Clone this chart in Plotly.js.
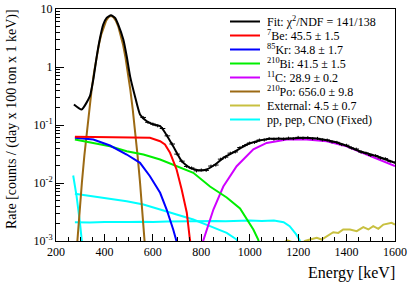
<!DOCTYPE html>
<html><head><meta charset="utf-8">
<script src="https://cdn.plot.ly/plotly-3.0.1.min.js"></script>
<style>html,body{margin:0;padding:0;background:#fff}#c{width:415px;height:286px}</style>
</head><body><div id="c"></div>
<script>
// ---- data ----
const fitE    = [274,306,340,354,368,382,395,409,427,444,457,478,492,506,526,547,575,602,630,650,684,719,753,795,822,857,891,932,988,1029,1084,1139,1221,1304,1386,1455,1524,1600];
const fitRate = [0.2256,0.185,0.314,0.608,1.5,3.2,5.4,7.05,7.8,7.05,5.4,2.98,1.53,0.69,0.314,0.152,0.116,0.102,0.0953,0.0743,0.043,0.0238,0.0183,0.0164,0.0171,0.0208,0.0272,0.0336,0.0461,0.0526,0.0578,0.0578,0.0601,0.0562,0.0461,0.0353,0.029,0.0223];

const dataE    = [560,580,600,620,640,660,680,700,720,740,760,780,800,820,840,860,880,900,920,940,960,980,1000,1020,1040,1060,1080,1100,1120,1140,1160,1180,1200,1220,1240,1260,1280,1300,1320,1340,1360,1380,1400,1420,1440,1460,1480,1500,1520,1540,1560,1580,1600];
const dataRate = [0.135,0.111,0.104,0.097,0.087,0.065,0.047,0.0315,0.0238,0.0193,0.0182,0.0162,0.0168,0.0165,0.0196,0.0204,0.0258,0.0279,0.0327,0.0343,0.0409,0.0442,0.0489,0.0502,0.0551,0.0552,0.0586,0.0571,0.0588,0.0574,0.0594,0.0583,0.0612,0.0593,0.0606,0.0582,0.0589,0.0555,0.0551,0.0512,0.0503,0.0459,0.0448,0.0402,0.0385,0.0341,0.0328,0.0299,0.0297,0.0270,0.0263,0.0236,0.0226];

const be7E = [278,382,506,588,630,650,671,698,719,740,753,758];
const be7R = [0.0626,0.0621,0.0613,0.0601,0.0526,0.0461,0.0332,0.0171,0.00773,0.0031,0.00106,0.0008];

const kr85E = [278,354,423,492,547,588,630,657,684,698,704];
const kr85R = [0.0601,0.0562,0.0443,0.031,0.0223,0.0131,0.00678,0.00349,0.00158,0.00102,0.0008];

const bi210E = [278,354,423,492,561,630,698,767,836,905,960,988,1015,1035,1042];
const bi210R = [0.0562,0.0493,0.0431,0.0353,0.031,0.0254,0.0195,0.015,0.0087,0.00562,0.00363,0.00235,0.00158,0.00106,0.0008];

const c11E = [800,808,850,891,946,1015,1070,1153,1235,1318,1400,1483,1600];
const c11R = [0.0008,0.00102,0.00349,0.0087,0.0195,0.038,0.049,0.056,0.056,0.0526,0.043,0.031,0.0195];

const po210E = [277,287,297,307,317,327,337,347,357,367,377,387,397,407,417,427,437,447,457,467,477,487,497,507,517,527,537,547,557,567,577];
const po210R = [0.000248,0.000938,0.003247,0.01022,0.02935,0.0771,0.1845,0.4026,0.801,1.455,2.41,3.65,5.03,6.32,7.26,7.6,7.26,6.32,5.03,3.65,2.41,1.455,0.801,0.4026,0.1845,0.0771,0.02935,0.01022,0.003247,0.000938,0.000248];

const extE = [1100,1140,1155,1170,1190,1210,1228,1249,1277,1297,1318,1345,1366,1386,1414,1442,1469,1490,1510,1531,1552,1586,1600];
const extR = [0.0007,0.00095,0.00103,0.00098,0.0008,0.00085,0.001,0.00106,0.00114,0.00106,0.00121,0.00142,0.00138,0.00158,0.00158,0.00148,0.00173,0.00158,0.0018,0.00162,0.00192,0.00206,0.00192];

const ppE = [271,285,299,306,309];
const ppR = [0.01346,0.00592,0.00206,0.00106,0.0008];

const cnoE = [278,354,492,561,588,630,698,767,836,905,946,955];
const cnoR = [0.00652,0.00592,0.00485,0.00426,0.0039,0.00349,0.00286,0.00235,0.0018,0.00138,0.00106,0.0008];

const pepE = [278,340,400,460,500,560,600,660,700,760,800,860,900,960,1000,1050,1100,1140,1165,1192,1206,1212];
const pepR = [0.00211,0.00208,0.00212,0.00209,0.00213,0.00215,0.00212,0.00216,0.00218,0.00215,0.0022,0.00222,0.00219,0.00224,0.00226,0.00222,0.00225,0.00211,0.0018,0.0013,0.00104,0.0008];

const yTickVals = [0.001,0.01,0.1,1,10];
const yTickText = ['10<sup>-3</sup>','10<sup>-2</sup>','10<sup>-1</sup>','1','10'];

const legendLabels = ['Fit: \u03c7<sup>2</sup>/NDF = 141/138','<sup>7</sup>Be: 45.5 \u00b1 1.5','<sup>85</sup>Kr: 34.8 \u00b1 1.7','<sup>210</sup>Bi: 41.5 \u00b1 1.5','<sup>11</sup>C: 28.9 \u00b1 0.2','<sup>210</sup>Po: 656.0 \u00b1 9.8','External: 4.5 \u00b1 0.7','pp, pep, CNO (Fixed)'];
const legendColors = ['#000000','#ff0000','#0000ff','#00ee00','#d000ff','#9c6a14','#c8c040','#00ffff'];

// ---- styling ----
const FONT = 'Liberation Serif, Times New Roman, serif';
const C = {be:'#ff0000', kr:'#0000ff', bi:'#00ee00', c:'#d000ff', po:'#9c6a14', ext:'#c8c040', cy:'#00ffff'};
const W = 415, H = 286, ML = 56, MR = 20, MT = 9, MB = 45;
const PW = W-ML-MR, PH = H-MT-MB;
const px = x => (x-ML)/PW, py = y => (MT+PH-y)/PH;

function line(x,y,color,w){return {x:x,y:y,type:'scatter',mode:'lines',line:{color:color,width:w||2},showlegend:false,hoverinfo:'skip'};}

const traces = [
  line(ppE,ppR,C.cy,2), line(cnoE,cnoR,C.cy,2), line(pepE,pepR,C.cy,2),
  line(extE,extR,C.ext,2),
  line(po210E,po210R,C.po,2),
  line(c11E,c11R,C.c,2),
  line(bi210E,bi210R,C.bi,2),
  line(kr85E,kr85R,C.kr,2),
  line(be7E,be7R,C.be,2),
  {x:dataE,y:dataRate,type:'scatter',mode:'markers',showlegend:false,hoverinfo:'skip',
   marker:{symbol:'line-ew-open',size:4,color:'#000',line:{color:'#000',width:1}},
   error_y:{type:'percent',value:6,width:0,thickness:1,color:'#000'}},
  Object.assign(line(fitE,fitRate,'#000',2),{line:{color:'#000',width:2,shape:'spline',smoothing:0.5}})
];

const annotations = [], shapes = [];
legendLabels.forEach((t,i)=>{
  const yc = 21.5 + i*14.0;
  annotations.push({xref:'paper',yref:'paper',x:px(265),y:py(yc),xanchor:'left',yanchor:'middle',
    text:t,showarrow:false,font:{family:FONT,size:12,color:'#000'}});
  shapes.push({type:'line',xref:'paper',yref:'paper',x0:px(230),x1:px(260),y0:py(yc),y1:py(yc),
    line:{color:legendColors[i],width:2}});
});
annotations.push({xref:'paper',yref:'paper',x:px(397),y:py(273),xanchor:'right',yanchor:'middle',
  text:'Energy [keV]',showarrow:false,font:{family:FONT,size:16,color:'#000'}});
annotations.push({xref:'paper',yref:'paper',x:px(12),y:py(7),xanchor:'center',yanchor:'top',textangle:-90,
  text:'Rate [counts / (day x 100 ton x 1 keV)]',showarrow:false,font:{family:FONT,size:14,color:'#000'}});

const layout = {
  width:W,height:H,margin:{l:ML,r:MR,t:MT,b:MB,pad:0},
  paper_bgcolor:'#fff',plot_bgcolor:'#fff',showlegend:false,
  font:{family:FONT,size:12,color:'#000'},
  xaxis:{range:[200,1600],showgrid:false,zeroline:false,showline:true,mirror:true,linecolor:'#000',linewidth:1,
    ticks:'inside',ticklen:7,tickwidth:1,tickcolor:'#000',dtick:200,tick0:200,
    minor:{ticks:'inside',ticklen:4,dtick:50,tickcolor:'#000',showgrid:false},
    tickfont:{family:FONT,size:12}},
  yaxis:{type:'log',range:[-3,1],showgrid:false,zeroline:false,showline:true,mirror:true,linecolor:'#000',linewidth:1,
    ticks:'inside',ticklen:8,tickwidth:1,tickcolor:'#000',tickmode:'array',tickvals:yTickVals,ticktext:yTickText,
    minor:{ticks:'inside',ticklen:4,dtick:'D1',tickcolor:'#000',showgrid:false},
    tickfont:{family:FONT,size:12}},
  annotations:annotations,shapes:shapes
};
Plotly.newPlot('c',traces,layout,{staticPlot:true,displayModeBar:false});
</script></body></html>
